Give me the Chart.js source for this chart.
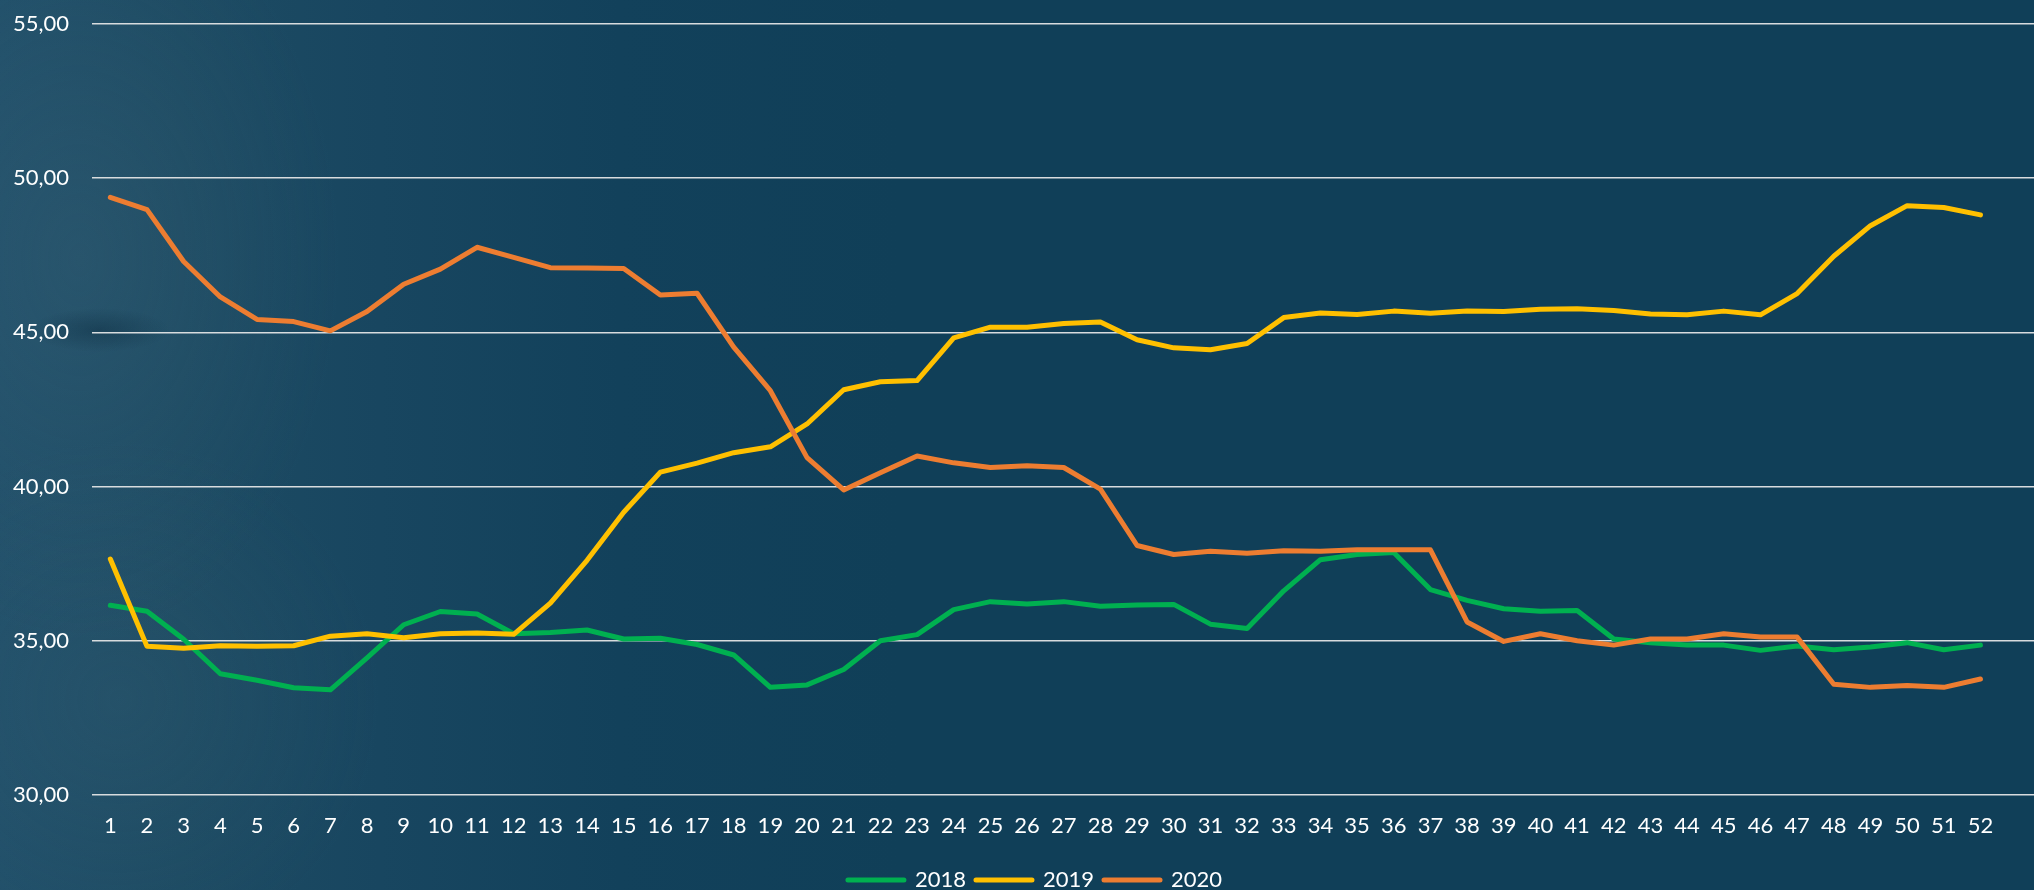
<!DOCTYPE html>
<html>
<head>
<meta charset="utf-8">
<script src="https://cdn.jsdelivr.net/npm/chart.js@4/dist/chart.umd.min.js"></script>
<style>
html, body { margin:0; padding:0; width:2034px; height:890px; overflow:hidden; }
body {
  background:
    radial-gradient(ellipse 70px 22px at 100px 330px, rgba(10,40,60,0.40), rgba(10,40,60,0) 100%),
    radial-gradient(ellipse 260px 380px at 80px 260px, rgba(60,100,120,0.30), rgba(60,100,120,0) 100%),
    radial-gradient(ellipse 260px 260px at 120px 700px, rgba(55,95,115,0.25), rgba(55,95,115,0) 100%),
    linear-gradient(90deg, #21506a 0px, #1d4b63 180px, #184660 380px, #12415b 620px, #103f58 900px, #103f58 100%);
}
#wrap { position:absolute; left:0; top:0; width:2034px; height:901px; }
</style>
</head>
<body>
<div id="wrap"><canvas id="c"></canvas></div>
<script>
const weeks = [1,2,3,4,5,6,7,8,9,10,11,12,13,14,15,16,17,18,19,20,21,22,23,24,25,26,
  27,28,29,30,31,32,33,34,35,36,37,38,39,40,41,42,43,44,45,46,47,48,49,50,51,52];

const s2018 = [36.15,35.96,35.05,33.93,33.72,33.48,33.41,34.45,35.52,35.95,35.87,35.23,35.27,
  35.35,35.06,35.08,34.88,34.54,33.49,33.57,34.07,35.00,35.20,36.01,36.27,36.19,
  36.27,36.12,36.16,36.18,35.54,35.40,36.62,37.63,37.80,37.86,36.66,36.31,36.04,
  35.96,35.98,35.06,34.94,34.86,34.86,34.69,34.83,34.71,34.80,34.94,34.71,34.86];

const s2019 = [37.65,34.82,34.76,34.84,34.82,34.84,35.15,35.23,35.10,35.23,35.25,35.21,36.22,
  37.61,39.17,40.47,40.76,41.10,41.29,42.03,43.14,43.40,43.44,44.82,45.17,45.17,
  45.29,45.34,44.76,44.50,44.44,44.64,45.48,45.63,45.58,45.69,45.62,45.69,45.68,
  45.75,45.77,45.71,45.60,45.57,45.69,45.57,46.26,47.47,48.46,49.11,49.05,48.81];

const s2020 = [49.38,48.98,47.30,46.15,45.42,45.35,45.05,45.68,46.56,47.05,47.76,47.43,47.10,
  47.09,47.07,46.21,46.27,44.52,43.11,40.94,39.89,40.45,40.99,40.77,40.62,40.68,
  40.62,39.92,38.09,37.80,37.90,37.84,37.92,37.90,37.95,37.95,37.95,35.61,34.98,
  35.23,35.00,34.86,35.06,35.06,35.23,35.12,35.12,33.59,33.49,33.55,33.49,33.76];

const seriesNames = ['2018', '2019', '2020'];
const seriesColors = ['#00B050', '#FFC000', '#ED7D31'];
const yTicks = [30, 35, 40, 45, 50, 55];

const FONT = 'Lato, "Open Sans", sans-serif';
const allSeries = [s2018, s2019, s2020];

const datasets = allSeries.map((vals, k) => ({
  label: seriesNames[k],
  data: weeks.map((w, i) => ({ x: w, y: vals[i] })),
  borderColor: seriesColors[k],
  backgroundColor: seriesColors[k],
  borderWidth: 5,
  borderCapStyle: 'round',
  borderJoinStyle: 'round',
  pointRadius: 0,
  pointHoverRadius: 0,
  tension: 0,
  order: 3 - k
}));

const legendShift = {
  id: 'legendShift',
  afterLayout(chart) {
    if (chart.legend) { chart.legend.left += 18; chart.legend.right += 18; }
  }
};

new Chart(document.getElementById('c'), {
  type: 'line',
  data: { datasets },
  plugins: [legendShift],
  options: {
    responsive: true,
    maintainAspectRatio: false,
    animation: false,
    layout: { padding: { top: 24, left: 0, right: 0, bottom: 0 } },
    scales: {
      x: {
        type: 'linear',
        min: 0.5,
        max: 53.46,
        grid: { display: false, drawTicks: false },
        border: { display: false },
        afterBuildTicks: (s) => { s.ticks = weeks.map(w => ({ value: w })); },
        afterFit: (s) => { s.height = 64; },
        ticks: {
          autoSkip: false,
          maxRotation: 0,
          padding: 18,
          color: '#ffffff',
          font: { family: FONT, size: 22 },
          callback: (v) => String(v)
        }
      },
      y: {
        min: 30,
        max: 55,
        afterBuildTicks: (s) => { s.ticks = yTicks.map(v => ({ value: v })); },
        afterFit: (s) => { s.width = 92; s.paddingTop = 0; s.paddingBottom = 0; },
        grid: { color: '#d8dcde', lineWidth: 1.6, drawTicks: false },
        border: { display: false },
        ticks: {
          padding: 23,
          color: '#ffffff',
          font: { family: FONT, size: 22 },
          callback: (v) => v.toFixed(2).replace('.', ',')
        }
      }
    },
    plugins: {
      legend: {
        position: 'bottom',
        labels: {
          boxWidth: 56,
          boxHeight: 0,
          padding: 10,
          color: '#ffffff',
          font: { family: FONT, size: 22 },
          sort: (a, b) => a.datasetIndex - b.datasetIndex
        }
      },
      tooltip: { enabled: false }
    }
  }
});
</script>
</body>
</html>
